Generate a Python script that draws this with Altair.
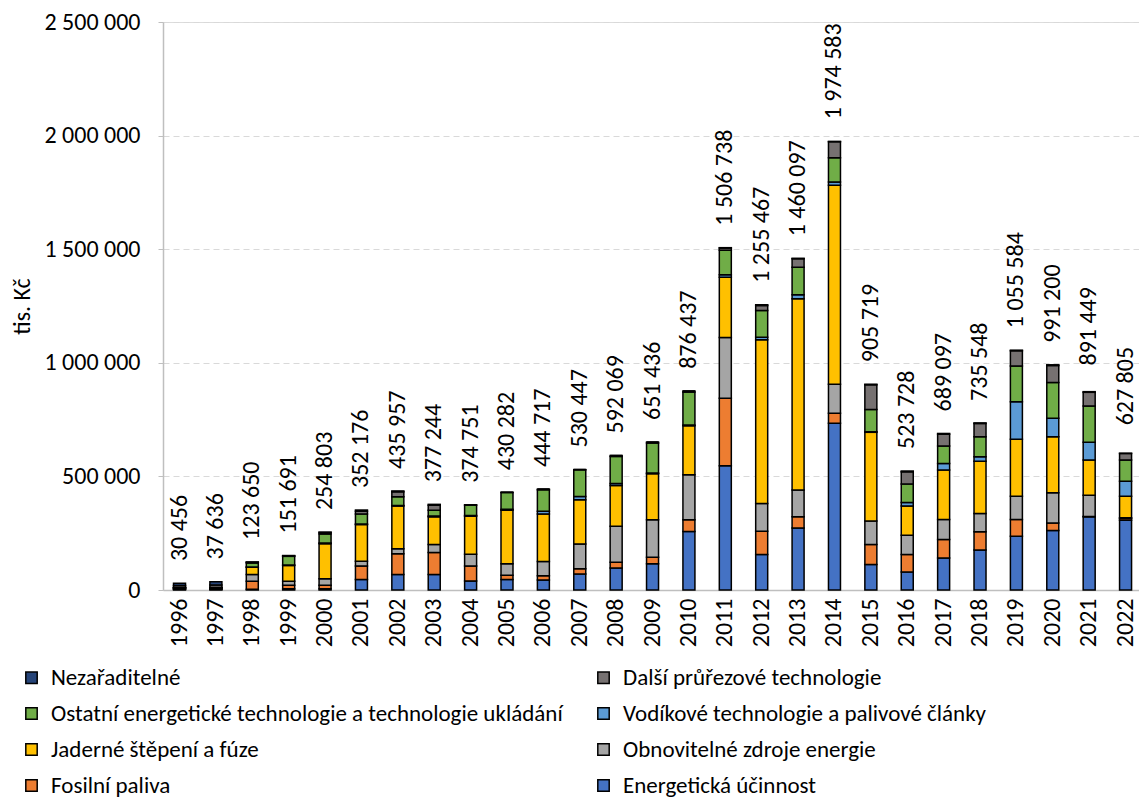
import altair as alt
import pandas as pd

years = [str(y) for y in range(1996, 2023)]

# values in tis. Kč (thousands); bottom-to-top stacking order
energ = [3, 3, 3, 5, 5, 46, 68, 68, 40, 46, 44, 70, 97, 115, 257, 547, 156, 273, 734, 112, 79, 141, 176, 237, 262, 322, 307]
fosil = [2, 2, 35, 16, 16, 60, 92, 97, 66, 19, 19, 23, 25, 29, 52, 297, 103, 49, 44, 88, 77, 81, 80, 73, 33, 2, 8]
obnov = [4, 4, 30, 17, 29, 20, 22, 35, 51, 51, 62, 110, 159, 165, 198, 267, 122, 118, 128, 104, 85, 88, 81, 103, 133, 93, 3]
jader = [1, 1, 32, 70, 154, 162, 188, 122, 168, 235, 210, 194, 179, 203, 216, 266, 720, 842, 876, 390, 129, 218, 230, 250, 247, 155, 95]
vodik = [0.5, 0.5, 1, 2, 3, 2, 2, 4, 3, 4, 12, 15, 9, 3, 3, 11, 12, 18, 14, 3, 15, 29, 20, 166, 81, 78, 66]
ostat = [1, 1, 18, 38, 40, 44, 38, 25, 45, 74, 94, 117, 119, 132, 145, 107, 117, 121, 106, 98, 81, 77, 88, 157, 157, 160, 93]
dalsi = [8, 11, 3, 2, 6, 13, 22, 22, 2, 1, 3, 1, 4, 4, 5, 10, 22, 37, 71, 108, 54, 52, 58, 67, 75, 60, 29]
nezar = [10, 14, 1.6, 1.7, 1.8, 5, 4, 4, 0, 0, 0, 0, 0, 0, 0, 1.7, 3.5, 2, 1.6, 2.7, 3.7, 3, 2.5, 2.6, 3.2, 3, 1]

totals = [30456, 37636, 123650, 151691, 254803, 352176, 435957, 377244, 374751, 430282,
          444717, 530447, 592069, 651436, 876437, 1506738, 1255467, 1460097, 1974583,
          905719, 523728, 689097, 735548, 1055584, 991200, 891449, 627805]

categories = [
    "Energetická účinnost",
    "Fosilní paliva",
    "Obnovitelné zdroje energie",
    "Jaderné štěpení a fúze",
    "Vodíkové technologie a palivové články",
    "Ostatní energetické technologie a technologie ukládání",
    "Další průřezové technologie",
    "Nezařaditelné",
]
colors = ["#4472C4", "#ED7D31", "#A5A5A5", "#FFC000", "#5B9BD5", "#70AD47", "#767171", "#264478"]
series = [energ, fosil, obnov, jader, vodik, ostat, dalsi, nezar]

rows = []
for ci, (cat, vals) in enumerate(zip(categories, series)):
    for y, v in zip(years, vals):
        rows.append({"rok": y, "kategorie": cat, "hodnota": v * 1000, "poradi": ci})
df = pd.DataFrame(rows)
df_tot = pd.DataFrame({"rok": years, "celkem": totals})

# legend is filled column by column: left column then right column
legend_idx = [7, 5, 3, 1, 6, 4, 2, 0]
legend_order = [categories[i] for i in legend_idx]
legend_colors = [colors[i] for i in legend_idx]

FONT = "Carlito, Open Sans, Noto Sans, sans-serif"

x_enc = alt.X("rok:O", sort=years, title=None,
              axis=alt.Axis(labelAngle=-90, labelFontSize=24, labelColor="black", labelFont=FONT,
                            ticks=False, labelPadding=8, domainColor="#BFBFBF", domainWidth=1.5,
                            labelAlign="right", labelBaseline="middle"),
              scale=alt.Scale(paddingInner=0.6, paddingOuter=0.2117, align=0.6))

bars = alt.Chart(df).mark_bar(size=12, stroke="black", strokeWidth=1.5).encode(
    x=x_enc,
    y=alt.Y("hodnota:Q", stack="zero", title="tis. Kč",
            scale=alt.Scale(domain=[0, 2500000], nice=False),
            axis=alt.Axis(values=[0, 500000, 1000000, 1500000, 2000000, 2500000],
                          labelExpr="replace(format(datum.value, ','), /,/g, ' ')",
                          labelFontSize=24, labelColor="black", labelFont=FONT, labelPadding=18,
                          tickSize=5, tickColor="#BFBFBF", domainColor="#BFBFBF", domainWidth=1.5,
                          gridColor="#D9D9D9", gridDash=[6, 4], gridWidth=1.2,
                          titleFontSize=24, titleFont=FONT, titleFontWeight="normal", titleColor="black",
                          titleX=-141, titleY=284, titleAngle=270, titleAlign="center",
                          titleBaseline="middle")),
    color=alt.Color("kategorie:N",
                    scale=alt.Scale(domain=legend_order, range=legend_colors),
                    legend=alt.Legend(title=None, orient="none", legendX=-143, legendY=644,
                                      columns=2, columnPadding=29, rowPadding=12,
                                      symbolType="square", symbolSize=130, symbolStrokeColor="black",
                                      symbolStrokeWidth=1.5, symbolOpacity=1,
                                      labelFontSize=23, labelFont=FONT, labelColor="black",
                                      labelOffset=8, labelLimit=800, padding=0)),
    order=alt.Order("poradi:Q", sort="ascending"),
)

labels = alt.Chart(df_tot).transform_calculate(
    lbl="replace(format(datum.celkem, ','), /,/g, ' ')"
).mark_text(angle=270, align="left", baseline="middle", dx=22,
            fontSize=24, font=FONT, color="black").encode(
    x=alt.X("rok:O", sort=years),
    y=alt.Y("celkem:Q"),
    text="lbl:N",
)

chart = alt.layer(bars, labels).properties(
    width=976, height=568,
    autosize=alt.AutoSizeParams(type="none"),
    padding={"left": 155, "top": 14, "right": 0, "bottom": 207},
).configure_view(stroke=None).configure(background="white")

chart.save("out.html", embed_options={"renderer": "svg", "actions": False})
